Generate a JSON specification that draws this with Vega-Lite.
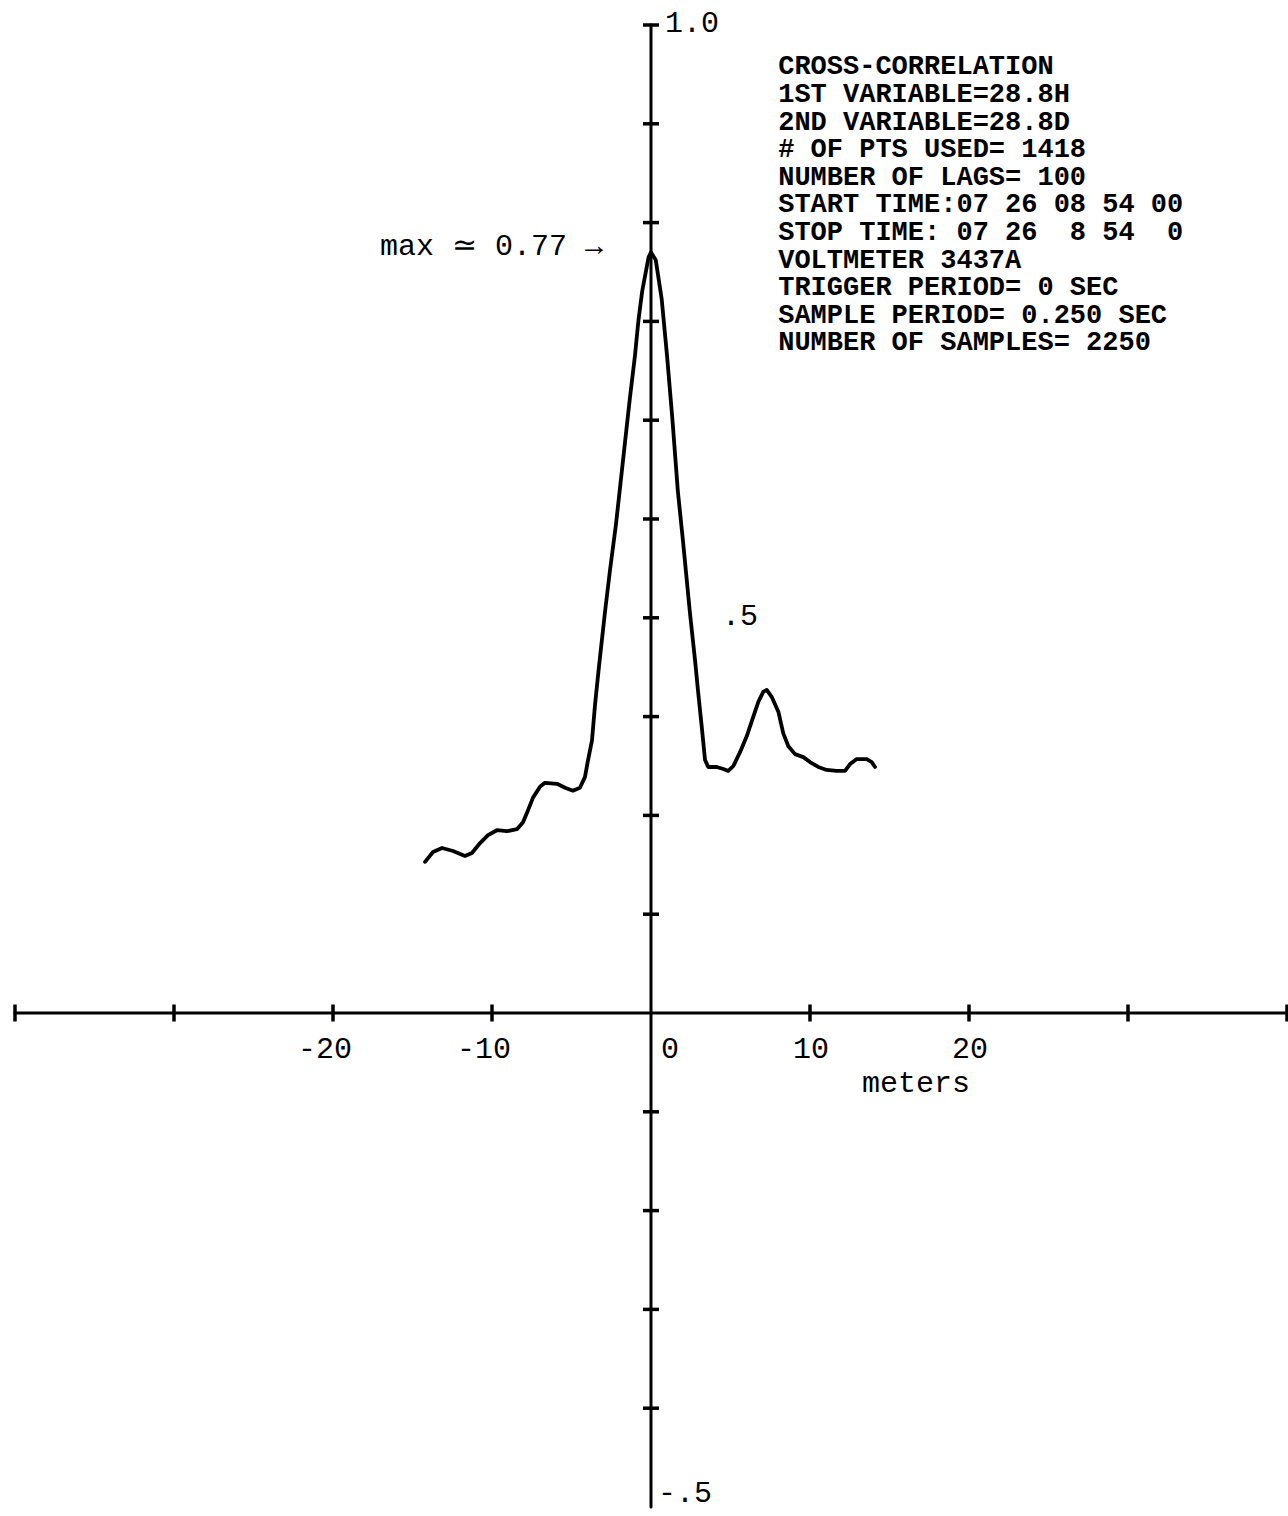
{
  "$schema": "https://vega.github.io/schema/vega-lite/v6.json",
  "width": 1288,
  "height": 1516,
  "autosize": {"type": "none"},
  "padding": 0,
  "background": "white",
  "config": {
    "view": {"stroke": null},
    "text": {"font": "Liberation Mono", "fontSize": 30, "color": "black"}
  },
  "datasets": {
    "xcorr": [
      {"lag": -14.21, "r": 0.153}, {"lag": -13.71, "r": 0.163}, {"lag": -13.14, "r": 0.167},
      {"lag": -12.45, "r": 0.164}, {"lag": -11.70, "r": 0.159}, {"lag": -11.26, "r": 0.162},
      {"lag": -10.75, "r": 0.172}, {"lag": -10.25, "r": 0.180}, {"lag": -9.69, "r": 0.185},
      {"lag": -9.06, "r": 0.184}, {"lag": -8.43, "r": 0.186}, {"lag": -8.05, "r": 0.193},
      {"lag": -7.74, "r": 0.205}, {"lag": -7.42, "r": 0.218}, {"lag": -6.98, "r": 0.229},
      {"lag": -6.67, "r": 0.233}, {"lag": -5.91, "r": 0.232}, {"lag": -5.41, "r": 0.228},
      {"lag": -4.91, "r": 0.225}, {"lag": -4.47, "r": 0.228}, {"lag": -4.15, "r": 0.239},
      {"lag": -3.96, "r": 0.256}, {"lag": -3.71, "r": 0.276}, {"lag": -3.52, "r": 0.312},
      {"lag": -3.27, "r": 0.351}, {"lag": -2.90, "r": 0.405}, {"lag": -2.58, "r": 0.448},
      {"lag": -2.20, "r": 0.495}, {"lag": -1.70, "r": 0.568}, {"lag": -1.33, "r": 0.622},
      {"lag": -1.01, "r": 0.665}, {"lag": -0.79, "r": 0.701}, {"lag": -0.55, "r": 0.731},
      {"lag": -0.15, "r": 0.765}, {"lag": 0.0, "r": 0.77}, {"lag": 0.30, "r": 0.762},
      {"lag": 0.67, "r": 0.723}, {"lag": 1.01, "r": 0.665}, {"lag": 1.35, "r": 0.600},
      {"lag": 1.69, "r": 0.528}, {"lag": 2.01, "r": 0.478}, {"lag": 2.45, "r": 0.405},
      {"lag": 2.77, "r": 0.357}, {"lag": 2.97, "r": 0.324}, {"lag": 3.19, "r": 0.290},
      {"lag": 3.40, "r": 0.256}, {"lag": 3.60, "r": 0.249}, {"lag": 4.13, "r": 0.249},
      {"lag": 4.55, "r": 0.247}, {"lag": 4.86, "r": 0.245}, {"lag": 5.18, "r": 0.250},
      {"lag": 5.60, "r": 0.264}, {"lag": 6.02, "r": 0.280}, {"lag": 6.33, "r": 0.295},
      {"lag": 6.75, "r": 0.315}, {"lag": 7.06, "r": 0.325}, {"lag": 7.28, "r": 0.327},
      {"lag": 7.59, "r": 0.320}, {"lag": 8.01, "r": 0.305}, {"lag": 8.32, "r": 0.283},
      {"lag": 8.64, "r": 0.270}, {"lag": 9.06, "r": 0.262}, {"lag": 9.58, "r": 0.259},
      {"lag": 10.00, "r": 0.254}, {"lag": 10.52, "r": 0.249}, {"lag": 11.05, "r": 0.246},
      {"lag": 11.68, "r": 0.245}, {"lag": 12.20, "r": 0.245}, {"lag": 12.52, "r": 0.252},
      {"lag": 12.94, "r": 0.257}, {"lag": 13.57, "r": 0.257}, {"lag": 13.88, "r": 0.254},
      {"lag": 14.09, "r": 0.249}
    ],
    "xticks": [
      {"v": -40}, {"v": -30}, {"v": -20}, {"v": -10},
      {"v": 10}, {"v": 20}, {"v": 30}, {"v": 40}
    ],
    "yticks": [
      {"v": -0.4}, {"v": -0.3}, {"v": -0.2}, {"v": -0.1},
      {"v": 0.1}, {"v": 0.2}, {"v": 0.3}, {"v": 0.4}, {"v": 0.5},
      {"v": 0.6}, {"v": 0.7}, {"v": 0.8}, {"v": 0.9}, {"v": 1.0}
    ],
    "xlabels": [
      {"v": -20, "label": "-20"}, {"v": -10, "label": "-10"},
      {"v": 10, "label": "10"}, {"v": 20, "label": "20"}
    ],
    "header": [
      {"lines": [
        "CROSS-CORRELATION",
        "1ST VARIABLE=28.8H",
        "2ND VARIABLE=28.8D",
        "# OF PTS USED= 1418",
        "NUMBER OF LAGS= 100",
        "START TIME:07 26 08 54 00",
        "STOP TIME: 07 26\u00a0 8 54\u00a0 0",
        "VOLTMETER 3437A",
        "TRIGGER PERIOD= 0 SEC",
        "SAMPLE PERIOD= 0.250 SEC",
        "NUMBER OF SAMPLES= 2250"
      ]}
    ]
  },
  "layer": [
    {
      "data": {"values": [{}]},
      "mark": {"type": "rule", "strokeWidth": 3, "color": "black", "strokeCap": "round"},
      "encoding": {
        "x": {"datum": -40, "scale": {"domain": [-40.943, 40.063], "nice": false, "zero": false}, "axis": null},
        "x2": {"datum": 40},
        "y": {"datum": 0, "scale": {"domain": [-0.50911, 1.0253], "nice": false, "zero": false}, "axis": null}
      }
    },
    {
      "data": {"values": [{}]},
      "mark": {"type": "rule", "strokeWidth": 3, "color": "black", "strokeCap": "round"},
      "encoding": {
        "x": {"datum": 0, "scale": {"domain": [-40.943, 40.063], "nice": false, "zero": false}, "axis": null},
        "y": {"datum": -0.5, "scale": {"domain": [-0.50911, 1.0253], "nice": false, "zero": false}, "axis": null},
        "y2": {"datum": 1.0}
      }
    },
    {
      "data": {"name": "xticks"},
      "mark": {"type": "tick", "orient": "vertical", "size": 17, "thickness": 3.5, "color": "black", "opacity": 1},
      "encoding": {
        "x": {"field": "v", "type": "quantitative", "scale": {"domain": [-40.943, 40.063], "nice": false, "zero": false}, "axis": null},
        "y": {"datum": 0, "scale": {"domain": [-0.50911, 1.0253], "nice": false, "zero": false}, "axis": null}
      }
    },
    {
      "data": {"name": "yticks"},
      "mark": {"type": "tick", "orient": "horizontal", "size": 16, "thickness": 3.5, "color": "black", "opacity": 1},
      "encoding": {
        "x": {"datum": 0, "scale": {"domain": [-40.943, 40.063], "nice": false, "zero": false}, "axis": null},
        "y": {"field": "v", "type": "quantitative", "scale": {"domain": [-0.50911, 1.0253], "nice": false, "zero": false}, "axis": null}
      }
    },
    {
      "data": {"name": "xcorr"},
      "mark": {"type": "line", "strokeWidth": 3.8, "color": "black", "strokeJoin": "round", "strokeCap": "round"},
      "encoding": {
        "x": {"field": "lag", "type": "quantitative", "scale": {"domain": [-40.943, 40.063], "nice": false, "zero": false}, "axis": null},
        "y": {"field": "r", "type": "quantitative", "scale": {"domain": [-0.50911, 1.0253], "nice": false, "zero": false}, "axis": null},
        "order": {"field": "lag", "type": "quantitative"}
      }
    },
    {
      "data": {"name": "xlabels"},
      "mark": {"type": "text", "align": "right", "baseline": "alphabetic", "dx": 19, "dy": 45},
      "encoding": {
        "x": {"field": "v", "type": "quantitative", "scale": {"domain": [-40.943, 40.063], "nice": false, "zero": false}, "axis": null},
        "y": {"datum": 0, "scale": {"domain": [-0.50911, 1.0253], "nice": false, "zero": false}, "axis": null},
        "text": {"field": "label", "type": "nominal"}
      }
    },
    {
      "data": {"values": [{}]},
      "mark": {"type": "text", "text": "0", "align": "left", "baseline": "alphabetic", "dx": 10, "dy": 45},
      "encoding": {
        "x": {"datum": 0, "scale": {"domain": [-40.943, 40.063], "nice": false, "zero": false}, "axis": null},
        "y": {"datum": 0, "scale": {"domain": [-0.50911, 1.0253], "nice": false, "zero": false}, "axis": null}
      }
    },
    {
      "data": {"values": [{}]},
      "mark": {"type": "text", "text": "meters", "align": "right", "baseline": "alphabetic", "dx": 1, "dy": 79},
      "encoding": {
        "x": {"datum": 20, "scale": {"domain": [-40.943, 40.063], "nice": false, "zero": false}, "axis": null},
        "y": {"datum": 0, "scale": {"domain": [-0.50911, 1.0253], "nice": false, "zero": false}, "axis": null}
      }
    },
    {
      "data": {"values": [{}]},
      "mark": {"type": "text", "text": "1.0", "align": "left", "baseline": "alphabetic", "dx": 14, "dy": 7},
      "encoding": {
        "x": {"datum": 0, "scale": {"domain": [-40.943, 40.063], "nice": false, "zero": false}, "axis": null},
        "y": {"datum": 1.0, "scale": {"domain": [-0.50911, 1.0253], "nice": false, "zero": false}, "axis": null}
      }
    },
    {
      "data": {"values": [{}]},
      "mark": {"type": "text", "text": ".5", "align": "left", "baseline": "alphabetic", "dx": 71, "dy": 7},
      "encoding": {
        "x": {"datum": 0, "scale": {"domain": [-40.943, 40.063], "nice": false, "zero": false}, "axis": null},
        "y": {"datum": 0.4, "scale": {"domain": [-0.50911, 1.0253], "nice": false, "zero": false}, "axis": null}
      }
    },
    {
      "data": {"values": [{}]},
      "mark": {"type": "text", "text": "-.5", "align": "left", "baseline": "alphabetic", "dx": 7, "dy": -5},
      "encoding": {
        "x": {"datum": 0, "scale": {"domain": [-40.943, 40.063], "nice": false, "zero": false}, "axis": null},
        "y": {"datum": -0.5, "scale": {"domain": [-0.50911, 1.0253], "nice": false, "zero": false}, "axis": null}
      }
    },
    {
      "data": {"values": [{}]},
      "mark": {"type": "text", "text": "max ≃ 0.77 →", "align": "right", "baseline": "alphabetic", "dx": -48, "dy": 3},
      "encoding": {
        "x": {"datum": 0, "scale": {"domain": [-40.943, 40.063], "nice": false, "zero": false}, "axis": null},
        "y": {"datum": 0.77, "scale": {"domain": [-0.50911, 1.0253], "nice": false, "zero": false}, "axis": null}
      }
    },
    {
      "data": {"name": "header"},
      "mark": {"type": "text", "align": "left", "baseline": "alphabetic", "fontWeight": "bold", "fontSize": 27, "lineHeight": 27.6},
      "encoding": {
        "x": {"datum": 8, "scale": {"domain": [-40.943, 40.063], "nice": false, "zero": false}, "axis": null},
        "y": {"datum": 0.95, "scale": {"domain": [-0.50911, 1.0253], "nice": false, "zero": false}, "axis": null},
        "text": {"field": "lines", "type": "nominal"}
      }
    }
  ]
}
